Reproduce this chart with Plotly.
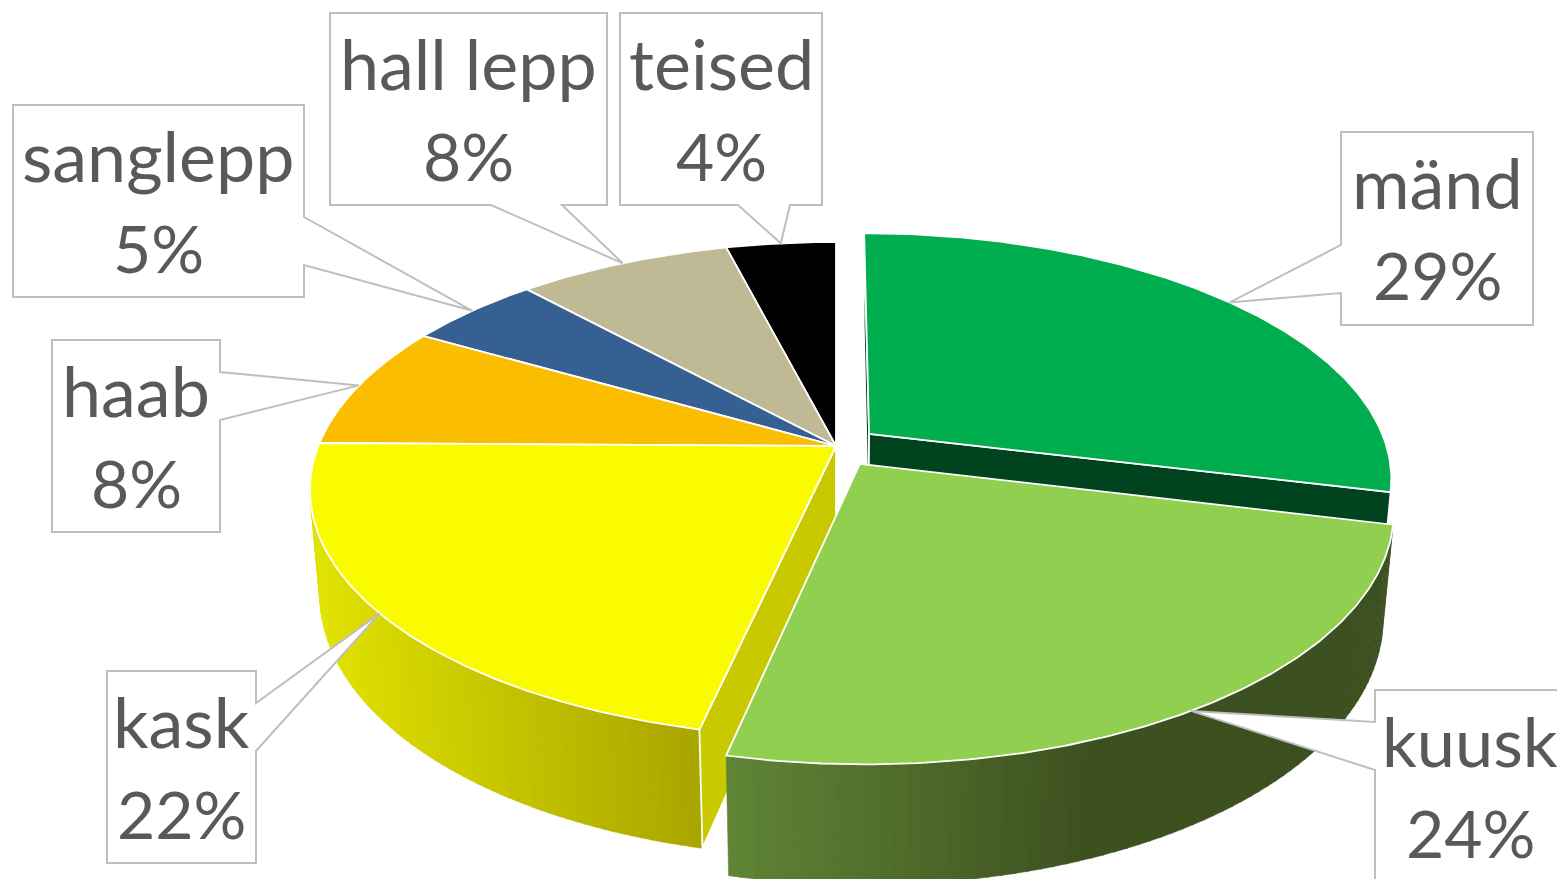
import math
import plotly.graph_objects as go

# --- data
names = ["mänd", "kuusk", "kask", "haab", "sanglepp", "hall lepp", "teised"]
shares = [28.8, 24.7, 21.7, 8.1, 4.9, 7.8, 4.0]
pct_labels = ["29%", "24%", "22%", "8%", "5%", "8%", "4%"]
explode = [0.082, 0.086, 0, 0, 0, 0, 0]
top_colors = ["#00ae4f", "#90cf50", "#fbfb00", "#fbbd00", "#366092", "#c0b995", "#000000"]

# --- label boxes: x0, y0, x1, y1, side of pointer, base a, base b
boxes = [
    (1341, 132, 1533, 325, "l", 245, 293),
    (1375, 690, 1575, 900, "l", 722, 770),
    (107, 671, 256, 863, "r", 703, 751),
    (52, 340, 220, 532, "r", 372, 420),
    (13, 105, 304, 297, "r", 217, 265),
    (330, 13, 607, 205, "b", 491, 562),
    (620, 13, 822, 205, "b", 738, 790),
]
TEXT = "#595959"
BORDER = "#bfbfbf"

# --- projection of the pie onto the page (perspective view)
CX, AY, R, C, B, D, E = 836, 446, 517.7, -0.1774, 161.1, 0.0186, 114


def proj(u, v, z=0.0):
    w = 1 + C * v + D * z
    return CX + R * u / w, (AY + B * v + E * z) / w


def rim(theta, off, z=0.0):
    t = math.radians(theta)
    return proj(off[0] + math.sin(t), off[1] - math.cos(t), z)


def lerp_color(c0, c1, f):
    f = max(0.0, min(1.0, f))
    return "rgb(%d,%d,%d)" % tuple(round(a + (b - a) * f) for a, b in zip(c0, c1))


starts = []
acc = 0.0
for s in shares:
    starts.append(acc)
    acc += s
spans = [(a * 3.6, (a + s) * 3.6) for a, s in zip(starts, shares)]
offsets = []
for (a, b), e in zip(spans, explode):
    m = math.radians((a + b) / 2)
    offsets.append((e * math.sin(m), -e * math.cos(m)))

fig = go.Figure()


def poly(pts, fill, line="white", width=1.8):
    xs = [p[0] for p in pts] + [pts[0][0]]
    ys = [p[1] for p in pts] + [pts[0][1]]
    fig.add_trace(go.Scatter(x=xs, y=ys, mode="lines", fill="toself", fillcolor=fill,
                             line=dict(color=line, width=width), hoverinfo="skip",
                             showlegend=False))


def wall(i, theta, color):
    o = offsets[i]
    poly([proj(o[0], o[1]), rim(theta, o), rim(theta, o, 1), proj(o[0], o[1], 1)], color)


def side(i, a, b, x0, x1, c0, c1, n=70):
    o = offsets[i]
    for k in range(n):
        t0 = a + (b - a) * k / n
        t1 = a + (b - a) * (k + 1) / n + (0.15 if k < n - 1 else 0)
        mid = rim((t0 + t1) / 2, o)
        col = lerp_color(c0, c1, (mid[0] - x0) / (x1 - x0))
        poly([rim(t0, o), rim(t1, o), rim(t1, o, 1), rim(t0, o, 1)], col, line=col, width=0.5)


def top(i):
    a, b = spans[i]
    o = offsets[i]
    n = max(8, int((b - a) * 1.5))
    pts = [proj(o[0], o[1])] + [rim(a + (b - a) * k / n, o) for k in range(n + 1)]
    poly(pts, top_colors[i])


# back slices first
for i in (6, 5, 4, 3):
    top(i)
# kask: outer side, inner wall, top
side(2, spans[2][0], 262, 312, 703, (226, 226, 0), (168, 164, 0))
wall(2, spans[2][0], "#c9c900")
top(2)
# mänd: thin left wall, front wall, top
wall(0, spans[0][0], "#00431f")
wall(0, spans[0][1], "#00431f")
top(0)
# kuusk: outer side, top
side(1, spans[1][0], spans[1][1], 729, 1090, (95, 133, 53), (61, 80, 32))
top(1)

# --- callouts: tip sits on the rim at each slice's mid angle
shapes = []
annotations = []
for i, box in enumerate(boxes):
    x0, y0, x1, y1, where, p, q = box
    tx, ty = rim((spans[i][0] + spans[i][1]) / 2, offsets[i])
    if where == "l":
        pts = [(x0, y0), (x1, y0), (x1, y1), (x0, y1), (x0, q), (tx, ty), (x0, p)]
    elif where == "r":
        pts = [(x0, y0), (x1, y0), (x1, p), (tx, ty), (x1, q), (x1, y1), (x0, y1)]
    else:
        pts = [(x0, y0), (x1, y0), (x1, y1), (q, y1), (tx, ty), (p, y1), (x0, y1)]
    path = "M " + " L ".join(f"{a:.1f},{b:.1f}" for a, b in pts) + " Z"
    shapes.append(dict(type="path", path=path, xref="x", yref="y", layer="above",
                       fillcolor="white", line=dict(color=BORDER, width=2)))
    cx = {1: 1470}.get(i, (x0 + x1) / 2)
    name_size = 68.5 if i == 1 else 70
    for label, dy, size in ((names[i], 50, name_size), (pct_labels[i], 142, 66)):
        annotations.append(dict(x=cx, y=y0 + dy, xref="x", yref="y", text=label, showarrow=False,
                                xanchor="center", yanchor="middle",
                                font=dict(family="Lato", size=size, color=TEXT)))

fig.update_layout(
    width=1557, height=879, margin=dict(l=0, r=0, t=0, b=0),
    paper_bgcolor="white", plot_bgcolor="white", showlegend=False,
    xaxis=dict(range=[0, 1557], visible=False, fixedrange=True),
    yaxis=dict(range=[879, 0], visible=False, fixedrange=True),
    shapes=shapes, annotations=annotations,
)
fig.write_html("out.html", config={"displayModeBar": False},
               post_script="document.body.style.margin='0';")
